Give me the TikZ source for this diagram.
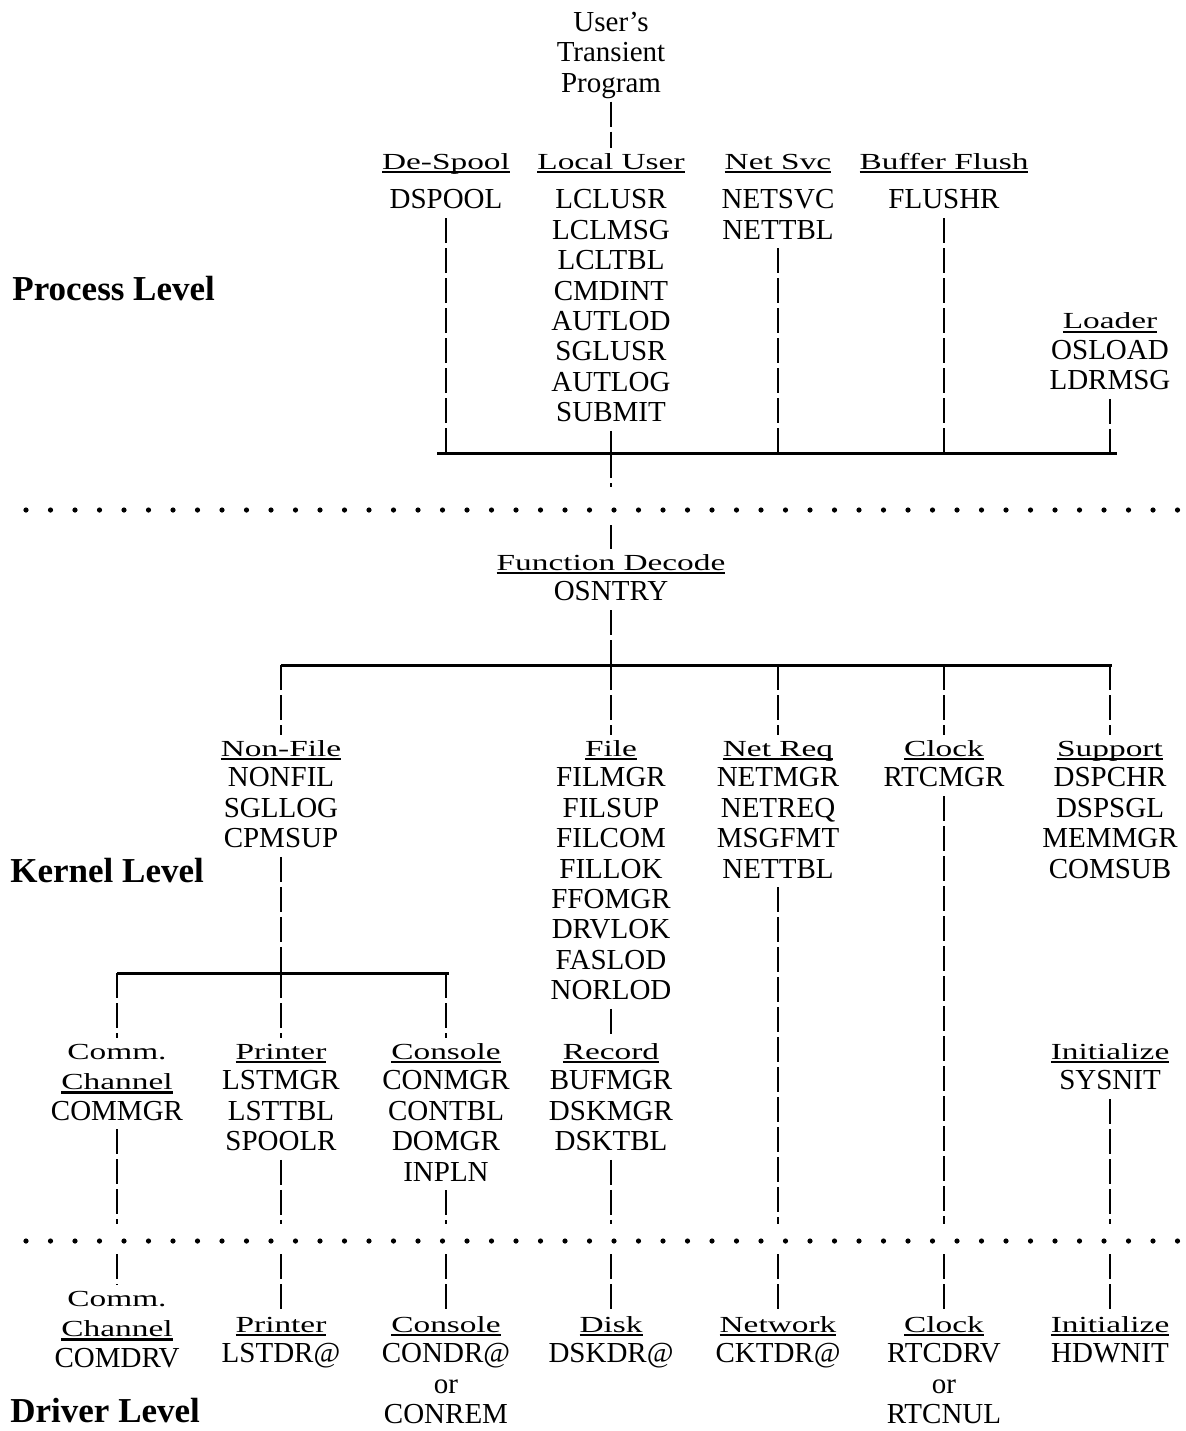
\documentclass[tikz,border=0pt]{standalone}
\usepackage{fontspec}
\setmainfont{Liberation Serif}
\newfontfamily\hdfont[FakeStretch=1.45]{Liberation Serif}
\newcommand\itemfont{\fontsize{14.5}{15.2}\selectfont}
\newcommand\hd[1]{{\hdfont\fontsize{11.5}{15.2}\selectfont #1}}
\newcommand\uh[1]{\hd{\setbox0\hbox{#1}\rlap{\rule[-2pt]{\wd0}{1.2pt}}\box0}}
\begin{document}
\begin{tikzpicture}[x=0.5pt,y=-0.5pt,
  col/.style={align=center, inner sep=0pt, outer sep=0pt, anchor=north, font=\itemfont},
  conn/.style={line width=1.35pt, dash pattern=on 12.5pt off 2.5pt},
  bar/.style={line width=1.5pt},
  lvl/.style={anchor=base west, inner sep=0pt, font=\bfseries\fontsize{17.5}{20}\selectfont},
  dotrow/.style={line width=2.6pt, line cap=round, dash pattern=on 0pt off 12.25pt}]
\useasboundingbox (0,0) rectangle (1185,1431);
\fill[white] (0,0) rectangle (1185,1431);

% ---- level labels
\node[lvl] (pl) at (12,300) {Process Level};
\node[lvl] (kl) at (10,882) {Kernel Level};
\node[lvl] (dl) at (10,1422) {Driver Level};

% ---- dotted level separators
\coordinate (r1L) at (26,510); \coordinate (r1R) at (1180,510);
\coordinate (r2L) at (26,1241); \coordinate (r2R) at (1180,1241);
\draw[dotrow] (r1L) -- (r1R);
\draw[dotrow] (r2L) -- (r2R);

% ---- process level
\node[col] (prog) at (611,10.3) {\strut User's\\Transient\\Program\strut};
\node[col] (ds) at (446,148.2) {\strut\uh{De-Spool}\\[4.5pt]DSPOOL\strut};
\node[col] (lu) at (611,148.2) {\strut\uh{Local User}\\[4.5pt]LCLUSR\\LCLMSG\\LCLTBL\\CMDINT\\AUTLOD\\SGLUSR\\AUTLOG\\SUBMIT\strut};
\node[col] (ns) at (778,148.2) {\strut\uh{Net Svc}\\[4.5pt]NETSVC\\NETTBL\strut};
\node[col] (bf) at (944,148.2) {\strut\uh{Buffer Flush}\\[4.5pt]FLUSHR\strut};
\node[col] (ld) at (1110,307.7) {\strut\uh{Loader}\\OSLOAD\\LDRMSG\strut};

% ---- kernel level
\node[col] (fd) at (611,549.2) {\strut\uh{Function Decode}\\OSNTRY\strut};
\node[col] (nf) at (281,735.2) {\strut\uh{Non-File}\\NONFIL\\SGLLOG\\CPMSUP\strut};
\node[col] (fi) at (611,735.2) {\strut\uh{File}\\FILMGR\\FILSUP\\FILCOM\\FILLOK\\FFOMGR\\DRVLOK\\FASLOD\\NORLOD\strut};
\node[col] (nr) at (778,735.2) {\strut\uh{Net Req}\\NETMGR\\NETREQ\\MSGFMT\\NETTBL\strut};
\node[col] (ck) at (944,735.2) {\strut\uh{Clock}\\RTCMGR\strut};
\node[col] (su) at (1110,735.2) {\strut\uh{Support}\\DSPCHR\\DSPSGL\\MEMMGR\\COMSUB\strut};

\node[col] (cc) at (117,1038.2) {\strut\hd{Comm.}\\\uh{Channel}\\COMMGR\strut};
\node[col] (pr) at (281,1038.2) {\strut\uh{Printer}\\LSTMGR\\LSTTBL\\SPOOLR\strut};
\node[col] (co) at (446,1038.2) {\strut\uh{Console}\\CONMGR\\CONTBL\\DOMGR\\INPLN\strut};
\node[col] (rc) at (611,1038.2) {\strut\uh{Record}\\BUFMGR\\DSKMGR\\DSKTBL\strut};
\node[col] (in) at (1110,1038.2) {\strut\uh{Initialize}\\SYSNIT\strut};

% ---- driver level
\node[col] (dcc) at (117,1285.2) {\strut\hd{Comm.}\\\uh{Channel}\\COMDRV\strut};
\node[col] (dpr) at (281,1311.2) {\strut\uh{Printer}\\LSTDR@\strut};
\node[col] (dco) at (446,1311.2) {\strut\uh{Console}\\CONDR@\\or\\CONREM\strut};
\node[col] (ddk) at (611,1311.2) {\strut\uh{Disk}\\DSKDR@\strut};
\node[col] (dnw) at (778,1311.2) {\strut\uh{Network}\\CKTDR@\strut};
\node[col] (dck) at (944,1311.2) {\strut\uh{Clock}\\RTCDRV\\or\\RTCNUL\strut};
\node[col] (din) at (1110,1311.2) {\strut\uh{Initialize}\\HDWNIT\strut};

% ---- bars
\coordinate (pbL) at (437,453); \coordinate (pbR) at (1117,453);
\coordinate (kbL) at (281,665); \coordinate (kbR) at (1112,665);
\coordinate (nbL) at (117,973); \coordinate (nbR) at (449,973);
\draw[bar] (pbL) -- (pbR);
\draw[bar] (kbL) -- (kbR);
\draw[bar] (nbL) -- (nbR);

% gaps around the dotted rows
\coordinate (g1) at (611,487); \coordinate (g2) at (611,525);
\coordinate (ga) at (0,1224); \coordinate (gb) at (0,1254);

% ---- connectors: process level
\draw[conn] (prog.south) -- (lu.north);
\foreach \n in {ds,lu,ns,bf,ld} \draw[conn] (\n.south) -- (\n.south |- pbL);
\draw[conn] (lu.south |- pbL) -- (g1) (g2) -- (fd.north);

% ---- connectors: kernel level
\draw[conn] (fd.south) -- (fd.south |- kbL);
\foreach \n in {nf,fi,nr,ck,su} \draw[conn] (\n.north |- kbL) -- (\n.north);
\draw[conn] (nf.south) -- (nf.south |- nbL);
\foreach \n in {cc,pr,co} \draw[conn] (\n.north |- nbL) -- (\n.north);
\draw[conn] (fi.south) -- (rc.north);

% ---- connectors: to driver level
\foreach \a/\b in {cc/dcc,pr/dpr,co/dco,rc/ddk,nr/dnw,ck/dck,in/din}
  \draw[conn] (\a.south) -- (\a.south |- ga) (\b.north |- gb) -- (\b.north);
\end{tikzpicture}
\end{document}
